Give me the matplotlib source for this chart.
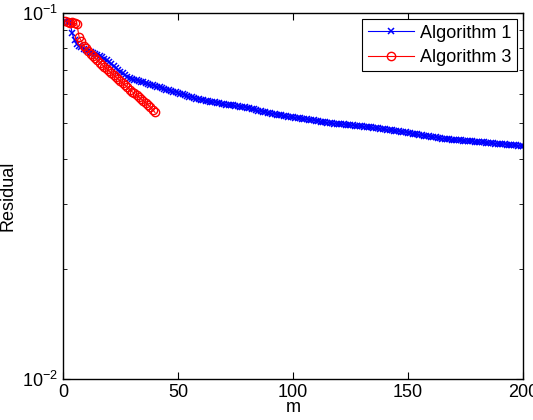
import numpy as np
import matplotlib
matplotlib.use("Agg")
import matplotlib.pyplot as plt
from matplotlib.ticker import LogLocator, NullFormatter, FixedLocator

plt.rcParams['font.family'] = ['Liberation Sans', 'DejaVu Sans']
plt.rcParams['mathtext.default'] = 'regular'

# Data
alg1_res = [
    0.0950, 0.0948, 0.0945, 0.0880, 0.0842, 0.0825, 0.0812, 0.0805, 0.0797, 0.0790,
    0.0786, 0.0781, 0.0777, 0.0772, 0.0768, 0.0763, 0.0757, 0.0751, 0.0745, 0.0736,
    0.0727, 0.0718, 0.0709, 0.0700, 0.0692, 0.0684, 0.0677, 0.0670, 0.0666, 0.0662,
    0.0658, 0.0655, 0.0652, 0.0649, 0.0646, 0.0643, 0.0640, 0.0637, 0.0634, 0.0632,
    0.0629, 0.0626, 0.0623, 0.0621, 0.0618, 0.0615, 0.0613, 0.0610, 0.0608, 0.0605,
    0.0602, 0.0599, 0.0597, 0.0594, 0.0591, 0.0589, 0.0586, 0.0584, 0.0581, 0.0579,
    0.0577, 0.0576, 0.0574, 0.0573, 0.0571, 0.0570, 0.0568, 0.0566, 0.0565, 0.0563,
    0.0562, 0.0561, 0.0560, 0.0559, 0.0557, 0.0556, 0.0555, 0.0554, 0.0552, 0.0551,
    0.0549, 0.0547, 0.0545, 0.0543, 0.0541, 0.0539, 0.0538, 0.0536, 0.0534, 0.0533,
    0.0531, 0.0530, 0.0528, 0.0527, 0.0525, 0.0524, 0.0523, 0.0521, 0.0520, 0.0519,
    0.0518, 0.0517, 0.0516, 0.0514, 0.0513, 0.0512, 0.0511, 0.0510, 0.0509, 0.0507,
    0.0506, 0.0505, 0.0504, 0.0503, 0.0502, 0.0501, 0.0500, 0.0499, 0.0498, 0.0497,
    0.0496, 0.0496, 0.0495, 0.0494, 0.0493, 0.0493, 0.0492, 0.0491, 0.0491, 0.0490,
    0.0489, 0.0489, 0.0488, 0.0487, 0.0486, 0.0485, 0.0484, 0.0483, 0.0482, 0.0481,
    0.0480, 0.0479, 0.0478, 0.0477, 0.0476, 0.0475, 0.0474, 0.0473, 0.0472, 0.0470,
    0.0469, 0.0468, 0.0467, 0.0466, 0.0465, 0.0463, 0.0462, 0.0461, 0.0460, 0.0459,
    0.0458, 0.0457, 0.0456, 0.0455, 0.0454, 0.0454, 0.0453, 0.0452, 0.0451, 0.0451,
    0.0450, 0.0449, 0.0449, 0.0448, 0.0447, 0.0447, 0.0446, 0.0446, 0.0445, 0.0445,
    0.0444, 0.0443, 0.0443, 0.0442, 0.0442, 0.0441, 0.0441, 0.0440, 0.0440, 0.0439,
    0.0439, 0.0438, 0.0437, 0.0437, 0.0436, 0.0436, 0.0435, 0.0434, 0.0434, 0.0433,
]
alg3_res = [
    0.0950, 0.0948, 0.0940, 0.0945, 0.0938, 0.0935, 0.0860, 0.0838, 0.0815, 0.0800,
    0.0785, 0.0775, 0.0763, 0.0752, 0.0742, 0.0732, 0.0722, 0.0713, 0.0704, 0.0695,
    0.0686, 0.0677, 0.0668, 0.0660, 0.0651, 0.0643, 0.0635, 0.0627, 0.0618, 0.0610,
    0.0603, 0.0596, 0.0589, 0.0582, 0.0575, 0.0568, 0.0561, 0.0553, 0.0544, 0.0535,
]
m1 = np.arange(1, len(alg1_res) + 1)
m3 = np.arange(1, len(alg3_res) + 1)

x_ticks = [0, 50, 100, 150, 200]

fig = plt.figure(figsize=(5.33, 4.2), dpi=100)
ax = fig.add_axes([0.1182, 0.0976, 0.8630, 0.8714])

ax.semilogy(m1, alg1_res, color='b', marker='x', markersize=4.5, linewidth=0.8,
            markeredgewidth=1.1, label='Algorithm 1')
ax.semilogy(m3, alg3_res, color='r', marker='o', markersize=6, linewidth=0.8,
            markerfacecolor='none', markeredgewidth=1.0, label='Algorithm 3')

ax.set_xlim(0, 200)
ax.set_ylim(1e-2, 1e-1)
ax.xaxis.set_major_locator(FixedLocator(x_ticks))
ax.yaxis.set_major_locator(FixedLocator([1e-2, 1e-1]))
ax.yaxis.set_minor_locator(LogLocator(base=10, subs=np.arange(2, 10)))
ax.yaxis.set_minor_formatter(NullFormatter())

ax.tick_params(which='both', direction='in', top=True, right=True, labelsize=13)
ax.tick_params(which='major', length=5, width=0.8)
ax.tick_params(which='minor', length=3, width=0.6)
for s in ax.spines.values():
    s.set_linewidth(1.0)

ax.set_xlabel('m', fontsize=13, labelpad=-1)
ax.set_ylabel('Residual', fontsize=13)
ax.yaxis.set_label_coords(-0.101, 0.5)

leg = ax.legend(loc='upper right', fontsize=13, fancybox=False, framealpha=1,
                edgecolor='k', borderaxespad=0.35, handlelength=2.6,
                handletextpad=0.3, borderpad=0.3, labelspacing=0.4)
leg.get_frame().set_linewidth(0.8)

fig.savefig('out.png', dpi=100)
